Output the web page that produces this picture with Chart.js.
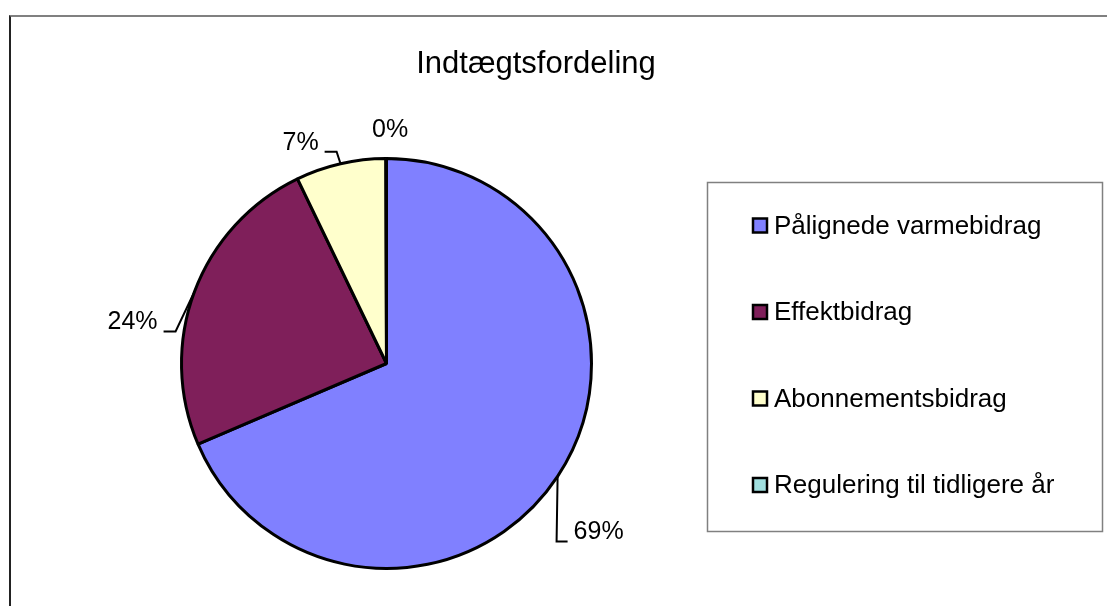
<!DOCTYPE html>
<html>
<head>
<meta charset="utf-8">
<script src="https://cdn.jsdelivr.net/npm/chart.js@4"></script>
<style>
  html, body { margin: 0; padding: 0; background: #fff; }
  #wrap { position: relative; width: 1107px; height: 606px; overflow: hidden; }
  #frame { position: absolute; left: 9px; top: 15px; width: 1200px; height: 700px;
           border-top: 2px solid #808080; border-left: 2px solid #222; }
  canvas { position: absolute; left: 0; top: 0; }
</style>
</head>
<body>
<div id="wrap">
  <div id="frame"></div>
  <canvas id="chart" width="1107" height="606"></canvas>
</div>
<script>
const title = 'Indtægtsfordeling';
const categories = ['Pålignede varmebidrag', 'Effektbidrag', 'Abonnementsbidrag', 'Regulering til tidligere år'];
const values = [68.6, 24.3, 7.1, 0.05];
const colors = ['#8080FF', '#7F1F5A', '#FFFFCC', '#A0E0E0'];

// where each percent label sits, relative to the slice's outer edge
const labelPlacement = [
  { dx: 41, dy: 56, leader: true },
  { dx: -62, dy: 31, leader: true },
  { dx: -40, dy: -21, leader: true },
  { dx: 4, dy: -28, leader: false }
];

const FONT = '"Liberation Sans", Arial, sans-serif';

const decorations = {
  id: 'decorations',
  afterDraw(chart) {
    const ctx = chart.ctx;
    const meta = chart.getDatasetMeta(0);
    const data = chart.data.datasets[0].data;
    const total = data.reduce((a, b) => a + b, 0);

    ctx.save();
    // title
    ctx.fillStyle = '#000';
    ctx.font = '31px ' + FONT;
    ctx.textAlign = 'center';
    ctx.textBaseline = 'middle';
    ctx.fillText(title, 536, 64);

    // percent labels
    ctx.font = '25px ' + FONT;
    meta.data.forEach((arc, i) => {
      const p = arc.getProps(['x', 'y', 'startAngle', 'endAngle', 'outerRadius'], true);
      const mid = (p.startAngle + p.endAngle) / 2;
      const ex = p.x + p.outerRadius * Math.cos(mid);
      const ey = p.y + p.outerRadius * Math.sin(mid);
      const pl = labelPlacement[i];
      const tx = ex + pl.dx, ty = ey + pl.dy;
      const txt = Math.round(data[i] / total * 100) + '%';
      ctx.textAlign = 'center';
      ctx.fillText(txt, tx, ty);
      if (pl.leader) {
        const w = ctx.measureText(txt).width;
        const right = tx < ex;
        const endX = right ? tx + w / 2 + 6 : tx - w / 2 - 6;
        const endY = ty + 9;
        const elbowX = right ? endX + 12 : endX - 11;
        ctx.beginPath();
        ctx.moveTo(ex, ey);
        ctx.lineTo(elbowX, endY);
        ctx.lineTo(endX, endY);
        ctx.lineWidth = 2;
        ctx.strokeStyle = '#000';
        ctx.stroke();
      }
    });

    // legend box
    ctx.strokeStyle = '#808080';
    ctx.lineWidth = 1.5;
    ctx.strokeRect(707.5, 182.5, 395, 349);
    ctx.font = '26px ' + FONT;
    ctx.textAlign = 'left';
    chart.data.labels.forEach((lab, i) => {
      const cy = 225.5 + i * 86.5;
      ctx.fillStyle = chart.data.datasets[0].backgroundColor[i];
      ctx.fillRect(753, cy - 7, 14, 14);
      ctx.strokeStyle = '#000';
      ctx.lineWidth = 2.5;
      ctx.strokeRect(753, cy - 7, 14, 14);
      ctx.fillStyle = '#000';
      ctx.fillText(lab, 774, cy + 1);
    });
    ctx.restore();
  }
};

new Chart(document.getElementById('chart'), {
  type: 'pie',
  data: {
    labels: categories,
    datasets: [{
      data: values,
      backgroundColor: colors,
      borderColor: '#000',
      borderWidth: 3
    }]
  },
  options: {
    responsive: false,
    animation: false,
    layout: { padding: { left: 180, right: 514, top: 157, bottom: 36 } },
    plugins: {
      legend: { display: false },
      title: { display: false },
      tooltip: { enabled: false }
    }
  },
  plugins: [decorations]
});
</script>
</body>
</html>
